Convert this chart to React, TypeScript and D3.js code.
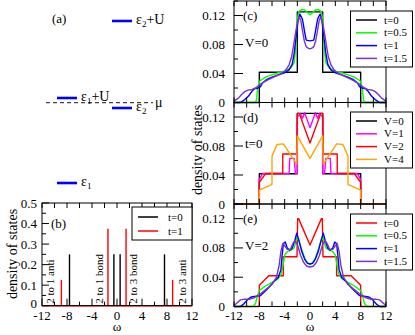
import React from 'react';
import * as d3 from 'd3';

type Pt = [number, number];

const FONT = '"Liberation Serif", "DejaVu Serif", "Times New Roman", serif';

// (a) energy levels
const levelNames = ['ε', 'ε', 'ε', 'ε'];
const levelSubs = ['2', '1', '2', '1'];
const levelSuffix = ['+U', '+U', '', ''];
const levelColumn = [1, 0, 1, 0];
const levelY = [21, 98, 108, 183];

// (b) discrete peaks
const peaksT0: Pt[] = [[-7.6, 0.25], [-0.5, 0.25], [0.5, 0.25], [7.6, 0.25]];
const peaksT1: Pt[] = [[-8.9, 0.125], [-1.45, 0.375], [1.45, 0.375], [8.9, 0.125]];
const peakLabels = ['2 to 1 anti', '2 to 1 bond', '2 to 3 bond', '2 to 3 anti'];
const peakLabelAt = [-10.7, -2.9, 2.6, 10.5];

// (c) V=0
const cT0: Pt[] = [[-12, 0], [-8, 0], [-8, 0.0417], [-2, 0.0417], [-2, 0.125], [2, 0.125], [2, 0.0417], [8, 0.0417], [8, 0], [12, 0]];
const cT05: Pt[] = [[-12, 0], [-8.7, 0], [-8.45, 0.003], [-8.3, 0.018], [-8.1, 0.025], [-7.9, 0.03], [-7, 0.035], [-6, 0.038], [-5, 0.041], [-4, 0.043], [-3, 0.048], [-2.5, 0.055], [-2.25, 0.075], [-2.05, 0.112], [-1.8, 0.125], [-1.4, 0.128], [-0.9, 0.128], [-0.4, 0.124], [0, 0.121], [0.4, 0.124], [0.9, 0.128], [1.4, 0.128], [1.8, 0.125], [2.05, 0.112], [2.25, 0.075], [2.5, 0.055], [3, 0.048], [4, 0.043], [5, 0.041], [6, 0.038], [7, 0.035], [7.9, 0.03], [8.1, 0.025], [8.3, 0.018], [8.45, 0.003], [8.7, 0], [12, 0]];
const cT1: Pt[] = [[-12, 0], [-11, 0], [-10.3, 0.004], [-9.7, 0.009], [-9.2, 0.015], [-8.8, 0.019], [-8.2, 0.02], [-7.8, 0.022], [-7.5, 0.027], [-6.8, 0.032], [-6, 0.035], [-5, 0.038], [-4, 0.041], [-3.3, 0.045], [-2.8, 0.053], [-2.5, 0.068], [-2.2, 0.09], [-1.9, 0.112], [-1.6, 0.122], [-1.2, 0.115], [-0.8, 0.095], [-0.6, 0.086], [0, 0.085], [0.6, 0.086], [0.8, 0.095], [1.2, 0.115], [1.6, 0.122], [1.9, 0.112], [2.2, 0.09], [2.5, 0.068], [2.8, 0.053], [3.3, 0.045], [4, 0.041], [5, 0.038], [6, 0.035], [6.8, 0.032], [7.5, 0.027], [7.8, 0.022], [8.2, 0.02], [8.8, 0.019], [9.2, 0.015], [9.7, 0.009], [10.3, 0.004], [11, 0], [12, 0]];
const cT15: Pt[] = [[-12, 0.002], [-11.3, 0.006], [-10.8, 0.011], [-10.3, 0.015], [-9.8, 0.017], [-9.1, 0.018], [-8.6, 0.02], [-8, 0.024], [-7.3, 0.028], [-6.5, 0.032], [-5.5, 0.036], [-4.5, 0.04], [-3.8, 0.045], [-3.3, 0.052], [-2.9, 0.063], [-2.6, 0.078], [-2.3, 0.095], [-2, 0.11], [-1.7, 0.118], [-1.45, 0.113], [-1.2, 0.1], [-0.9, 0.085], [-0.6, 0.077], [-0.3, 0.075], [0, 0.074], [0.3, 0.075], [0.6, 0.077], [0.9, 0.085], [1.2, 0.1], [1.45, 0.113], [1.7, 0.118], [2, 0.11], [2.3, 0.095], [2.6, 0.078], [2.9, 0.063], [3.3, 0.052], [3.8, 0.045], [4.5, 0.04], [5.5, 0.036], [6.5, 0.032], [7.3, 0.028], [8, 0.024], [8.6, 0.02], [9.1, 0.018], [9.8, 0.017], [10.3, 0.015], [10.8, 0.011], [11.3, 0.006], [12, 0.002]];

// (d) t=0
const dV0: Pt[] = [[-12, 0], [-8, 0], [-8, 0.0417], [-2, 0.0417], [-2, 0.125], [2, 0.125], [2, 0.0417], [8, 0.0417], [8, 0], [12, 0]];
const dV1: Pt[] = [[-12, 0], [-8, 0], [-8, 0.034], [-7.5, 0.042], [-3.3, 0.042], [-3.2, 0.063], [-2.5, 0.063], [-2.3, 0.042], [-2, 0.042], [-2, 0.12], [-1.5, 0.125], [-1.2, 0.118], [-0.85, 0.126], [0, 0.105], [0.85, 0.126], [1.2, 0.118], [1.5, 0.125], [2, 0.12], [2, 0.042], [2.3, 0.042], [2.5, 0.063], [3.2, 0.063], [3.3, 0.042], [7.5, 0.042], [8, 0.034], [8, 0], [12, 0]];
const dV2: Pt[] = [[-12, 0], [-8, 0], [-8, 0.03], [-7, 0.042], [-4.3, 0.042], [-4.3, 0.069], [-2.1, 0.069], [-2, 0.125], [-1.7, 0.125], [0, 0.084], [1.7, 0.125], [2, 0.125], [2.1, 0.069], [4.3, 0.069], [4.3, 0.042], [7, 0.042], [8, 0.03], [8, 0], [12, 0]];
const dV4: Pt[] = [[-12, 0], [-8, 0], [-8, 0.019], [-6, 0.027], [-6, 0.066], [-5.2, 0.082], [-4.2, 0.083], [-2.1, 0.055], [-2, 0.094], [0, 0.063], [2, 0.094], [2.1, 0.055], [4.2, 0.083], [5.2, 0.082], [6, 0.066], [6, 0.027], [8, 0.019], [8, 0], [12, 0]];

// (e) V=2
const eT0: Pt[] = [[-12, 0], [-8, 0], [-8, 0.029], [-6.5, 0.042], [-4.2, 0.042], [-4.2, 0.068], [-2.05, 0.068], [-1.95, 0.12], [-1.8, 0.12], [0, 0.084], [1.8, 0.12], [1.95, 0.12], [2.05, 0.068], [4.2, 0.068], [4.2, 0.042], [6.5, 0.042], [8, 0.029], [8, 0], [12, 0]];
const eT05: Pt[] = [[-12, 0], [-9, 0], [-8.6, 0.004], [-8.3, 0.015], [-8, 0.022], [-7, 0.028], [-6, 0.033], [-5, 0.038], [-4.5, 0.045], [-4.2, 0.06], [-4, 0.07], [-3.6, 0.075], [-3, 0.077], [-2.5, 0.08], [-2.2, 0.09], [-2, 0.095], [-1.7, 0.088], [-1.2, 0.075], [-0.8, 0.065], [-0.4, 0.06], [0, 0.058], [0.4, 0.06], [0.8, 0.065], [1.2, 0.075], [1.7, 0.088], [2, 0.095], [2.2, 0.09], [2.5, 0.08], [3, 0.077], [3.6, 0.075], [4, 0.07], [4.2, 0.06], [4.5, 0.045], [5, 0.038], [6, 0.033], [7, 0.028], [8, 0.022], [8.3, 0.015], [8.6, 0.004], [9, 0], [12, 0]];
const eT1: Pt[] = [[-12, 0], [-11, 0], [-10.4, 0.004], [-9.8, 0.01], [-9.3, 0.013], [-8.5, 0.014], [-7.8, 0.015], [-7.3, 0.019], [-6.5, 0.026], [-5.8, 0.033], [-5, 0.04], [-4.6, 0.05], [-4.4, 0.07], [-4.2, 0.086], [-3.9, 0.088], [-3.6, 0.08], [-3.2, 0.077], [-2.8, 0.08], [-2.4, 0.09], [-2.1, 0.1], [-1.8, 0.092], [-1.3, 0.075], [-0.8, 0.064], [-0.4, 0.059], [0, 0.058], [0.4, 0.059], [0.8, 0.064], [1.3, 0.075], [1.8, 0.092], [2.1, 0.1], [2.4, 0.09], [2.8, 0.08], [3.2, 0.077], [3.6, 0.08], [3.9, 0.088], [4.2, 0.086], [4.4, 0.07], [4.6, 0.05], [5, 0.04], [5.8, 0.033], [6.5, 0.026], [7.3, 0.019], [7.8, 0.015], [8.5, 0.014], [9.3, 0.013], [9.8, 0.01], [10.4, 0.004], [11, 0], [12, 0]];
const eT15: Pt[] = [[-12, 0.001], [-11.5, 0.005], [-11, 0.009], [-10.3, 0.01], [-9.5, 0.01], [-8.8, 0.012], [-8, 0.016], [-7, 0.023], [-6, 0.03], [-5.3, 0.04], [-4.9, 0.055], [-4.6, 0.075], [-4.3, 0.086], [-4, 0.083], [-3.6, 0.078], [-3.1, 0.078], [-2.7, 0.086], [-2.4, 0.09], [-2, 0.085], [-1.5, 0.07], [-1, 0.06], [-0.5, 0.055], [0, 0.054], [0.5, 0.055], [1, 0.06], [1.5, 0.07], [2, 0.085], [2.4, 0.09], [2.7, 0.086], [3.1, 0.078], [3.6, 0.078], [4, 0.083], [4.3, 0.086], [4.6, 0.075], [4.9, 0.055], [5.3, 0.04], [6, 0.03], [7, 0.023], [8, 0.016], [8.8, 0.012], [9.5, 0.01], [10.3, 0.01], [11, 0.009], [11.5, 0.005], [12, 0.001]];

const tLabels = ['t=0', 't=0.5', 't=1', 't=1.5'];
const vLabels = ['V=0', 'V=1', 'V=2', 'V=4'];
const xTickVals = d3.range(-12, 13, 2);
const yTickRight = d3.range(0, 0.141, 0.02);
const yTickLeft = d3.range(0, 0.501, 0.05);

const BLACK = '#000000', GREEN = '#00ff00', BLUE = '#0000ff', PURPLE = '#7a33c8';
const MAGENTA = '#ff00ff', RED = '#ff0000', ORANGE = '#ffa500';

type Scale = d3.ScaleLinear<number, number>;

function Curve({ x, y, data, color, w = 1.4 }: { x: Scale; y: Scale; data: Pt[]; color: string; w?: number }) {
  const line = d3.line<Pt>().x(d => x(d[0])).y(d => y(d[1]));
  return <path d={line(data) || ''} fill="none" stroke={color} strokeWidth={w} strokeLinejoin="round" />;
}

function Legend({ x, y, w, h, names, colors, step, lineX, textX }: any) {
  return (
    <g>
      <rect x={x} y={y} width={w} height={h} fill="#fff" stroke="#000" strokeWidth={1} />
      {names.map((n: string, i: number) => (
        <g key={n}>
          <line x1={lineX[0]} x2={lineX[1]} y1={y + 9 + i * step} y2={y + 9 + i * step} stroke={colors[i]} strokeWidth={1.5} />
          <text x={textX} y={y + 9 + i * step} dy="0.33em" fontSize={11}>{n}</text>
        </g>
      ))}
    </g>
  );
}

function RightPanel({ x, y, series, colors, tag, note, names, legendY, showX }: any) {
  const [x0, x1] = x.range();
  const [yb, yt] = y.range();
  return (
    <g>
      {series.map((s: Pt[], i: number) => <Curve key={i} x={x} y={y} data={s} color={colors[i]} />)}
      <rect x={x0} y={yt} width={x1 - x0} height={yb - yt} fill="none" stroke="#000" strokeWidth={1} />
      {xTickVals.map((v: number) => (
        <g key={v}>
          <line x1={x(v)} x2={x(v)} y1={yb} y2={yb - 5} stroke="#000" />
          <line x1={x(v)} x2={x(v)} y1={yt} y2={yt + 5} stroke="#000" />
          {showX && v % 4 === 0 && <text x={x(v)} y={315} dy="0.35em" textAnchor="middle" fontSize={13}>{v}</text>}
        </g>
      ))}
      {yTickRight.map((v: number, i: number) => (
        <g key={i}>
          <line x1={x0} x2={x0 + (i % 2 === 0 ? 9 : 4)} y1={y(v)} y2={y(v)} stroke="#000" />
          {i % 2 === 0 && <text x={225} y={y(v)} dy="0.35em" textAnchor="end" fontSize={13}>{v === 0 ? '0' : d3.format('.2f')(v)}</text>}
        </g>
      ))}
      <text x={243} y={y(0.12)} dy="0.35em" fontSize={13}>{tag}</text>
      <text x={245} y={y(0.0835)} dy="0.35em" fontSize={13}>{note}</text>
      <Legend x={350.5} y={legendY} w={62} h={56} names={names} colors={colors} step={12.8} lineX={[356, 377]} textX={384} />
    </g>
  );
}

export default function App() {
  const xb = d3.scaleLinear().domain([-12, 12]).range([42, 192]);
  const yb = d3.scaleLinear().domain([0, 0.5]).range([305.7, 203]);
  const xr = d3.scaleLinear().domain([-12, 12]).range([234, 386]);
  const yc = d3.scaleLinear().domain([0, 0.14]).range([102.5, 1]);
  const yd = d3.scaleLinear().domain([0, 0.14]).range([204, 102.5]);
  const ye = d3.scaleLinear().domain([0, 0.14]).range([306.5, 204]);
  const colX = [57, 112];

  return (
    <svg width={415} height={335} style={{ position: 'absolute', left: 0, top: 0, background: '#fff' }} fontFamily={FONT}>
      {/* (a) level scheme */}
      <text x={52} y={18} dy="0.35em" fontSize={13}>(a)</text>
      <line x1={46} x2={153} y1={102.7} y2={102.7} stroke="#444" strokeWidth={1.3} strokeDasharray="4,3" />
      <text x={155} y={102} dy="0.35em" fontSize={14}>μ</text>
      {levelY.map((ly, i) => (
        <g key={i}>
          <line x1={colX[levelColumn[i]]} x2={colX[levelColumn[i]] + 20} y1={ly} y2={ly} stroke="#0000ff" strokeWidth={2.6} />
          <text x={colX[levelColumn[i]] + 24} y={ly + 3} fontSize={14}>
            {levelNames[i]}<tspan dy={3} fontSize={9}>{levelSubs[i]}</tspan><tspan dy={-3}>{levelSuffix[i]}</tspan>
          </text>
        </g>
      ))}

      {/* (b) */}
      <line x1={xb(-12)} x2={xb(12)} y1={yb(0)} y2={yb(0)} stroke={RED} strokeWidth={1.4} />
      {peaksT0.map((p, i) => <line key={'k' + i} x1={xb(p[0])} x2={xb(p[0])} y1={yb(0)} y2={yb(p[1])} stroke={BLACK} strokeWidth={1.4} />)}
      {peaksT1.map((p, i) => <line key={'r' + i} x1={xb(p[0])} x2={xb(p[0])} y1={yb(0)} y2={yb(p[1])} stroke={RED} strokeWidth={1.4} />)}
      {peakLabels.map((l, i) => (
        <text key={l} transform={`translate(${xb(peakLabelAt[i])},${yb(0) - 2}) rotate(-90)`} dy="0.35em" fontSize={11}>{l}</text>
      ))}
      <rect x={42} y={203} width={150} height={102.7} fill="none" stroke="#000" strokeWidth={1} />
      {xTickVals.map(v => (
        <g key={v}>
          <line x1={xb(v)} x2={xb(v)} y1={yb(0)} y2={yb(0) - (v % 4 === 0 ? 7 : 4)} stroke="#000" />
          <line x1={xb(v)} x2={xb(v)} y1={203} y2={208} stroke="#000" />
          {v % 4 === 0 && <text x={xb(v)} y={315} dy="0.35em" textAnchor="middle" fontSize={13}>{v}</text>}
        </g>
      ))}
      {yTickLeft.map((v, i) => (
        <g key={i}>
          <line x1={42} x2={42 + (i % 2 === 0 ? 7 : 4)} y1={yb(v)} y2={yb(v)} stroke="#000" />
          {i % 2 === 0 && <text x={37} y={yb(v) - (v === 0 ? 2 : 0)} dy="0.35em" textAnchor="end" fontSize={13}>{v === 0 ? '0' : d3.format('.1f')(v)}</text>}
        </g>
      ))}
      <text x={51} y={yb(0.4)} dy="0.35em" fontSize={13}>(b)</text>
      <rect x={132} y={207} width={60} height={33} fill="#fff" stroke="#000" strokeWidth={1} />
      {['t=0', 't=1'].map((n, i) => (
        <g key={n}>
          <line x1={138} x2={158} y1={217 + i * 14} y2={217 + i * 14} stroke={i === 0 ? BLACK : RED} strokeWidth={1.5} />
          <text x={168} y={217 + i * 14} dy="0.33em" fontSize={11}>{n}</text>
        </g>
      ))}
      <text transform="translate(12,254) rotate(-90)" textAnchor="middle" dy="0.35em" fontSize={14}>density of states</text>
      <text x={117} y={328} dy="0.25em" textAnchor="middle" fontSize={13}>ω</text>

      {/* (c) (d) (e) */}
      <RightPanel x={xr} y={yc} series={[cT0, cT05, cT1, cT15]} colors={[BLACK, GREEN, BLUE, PURPLE]} tag="(c)" note="V=0" names={tLabels} legendY={11} showX={false} />
      <RightPanel x={xr} y={yd} series={[dV0, dV1, dV2, dV4]} colors={[BLACK, MAGENTA, RED, ORANGE]} tag="(d)" note="t=0" names={vLabels} legendY={112} showX={false} />
      <RightPanel x={xr} y={ye} series={[eT0, eT05, eT1, eT15]} colors={[RED, GREEN, BLUE, PURPLE]} tag="(e)" note="V=2" names={tLabels} legendY={214} showX={true} />
      <text transform="translate(197,150) rotate(-90)" textAnchor="middle" dy="0.35em" fontSize={14}>density of states</text>
      <text x={310} y={328} dy="0.25em" textAnchor="middle" fontSize={13}>ω</text>
    </svg>
  );
}
